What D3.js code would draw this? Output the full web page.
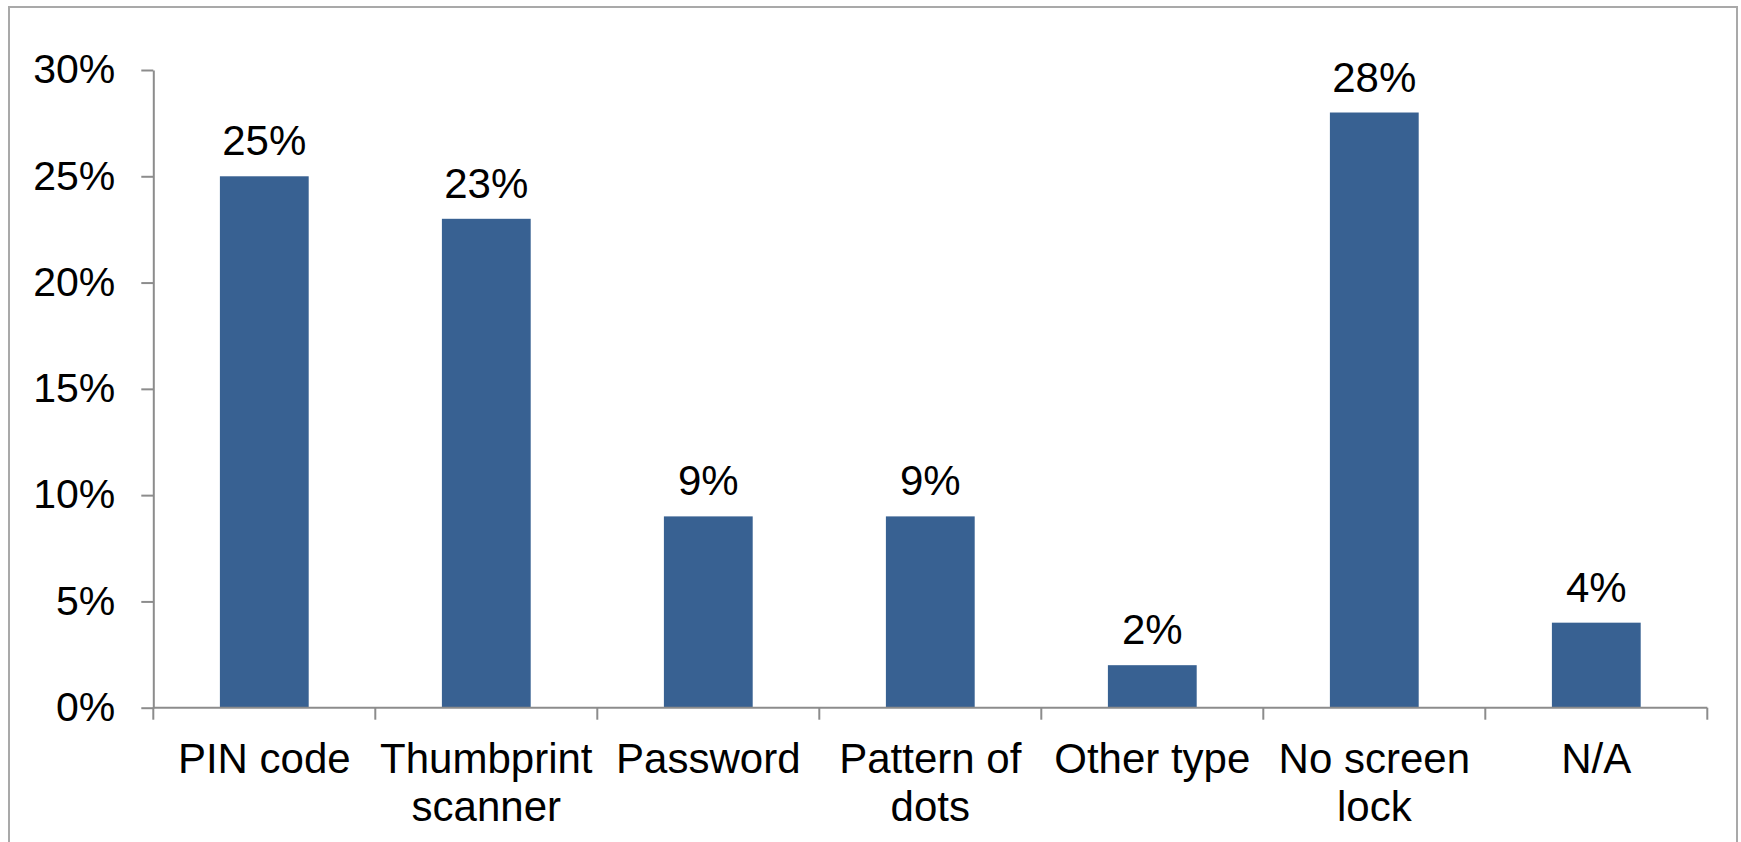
<!DOCTYPE html>
<html>
<head>
<meta charset="utf-8">
<script src="https://cdn.jsdelivr.net/npm/d3@7"></script>
<style>
  html, body { margin: 0; padding: 0; background: #fff; }
  svg { display: block; }
  text { font-family: "Liberation Sans", Arial, sans-serif; fill: #000; }
</style>
</head>
<body>
<svg id="chart" width="1741" height="842"></svg>
<script>
// Screen lock type used on smartphones
const categories = ["PIN code", "Thumbprint scanner", "Password", "Pattern of dots", "Other type", "No screen lock", "N/A"];
const shares = [25, 23, 9, 9, 2, 28, 4];
const yTicks = [0, 5, 10, 15, 20, 25, 30];

const svg = d3.select("#chart");
const plot = { left: 153.3, right: 1707.3, top: 70, bottom: 707.7 };
const fontSize = 42;
const tickFontSize = 41;
const axisColor = "#8c8c8c";

// outer chart frame (bottom edge lies below the visible area)
svg.append("rect")
  .attr("x", 9).attr("y", 7)
  .attr("width", 1728).attr("height", 900)
  .attr("fill", "none")
  .attr("stroke", "#a9a9a9")
  .attr("stroke-width", 2);

const x = d3.scaleBand()
  .domain(categories)
  .range([plot.left, plot.right])
  .paddingInner(0.6)
  .paddingOuter(0.3);

const y = d3.scaleLinear()
  .domain([0, 30])
  .range([plot.bottom, plot.top]);

// bars
svg.append("g").selectAll("rect")
  .data(categories)
  .join("rect")
  .attr("x", d => x(d))
  .attr("y", (d, i) => y(shares[i]))
  .attr("width", x.bandwidth())
  .attr("height", (d, i) => y(0) - y(shares[i]))
  .attr("fill", "#386192");

// value labels
svg.append("g").selectAll("text")
  .data(categories)
  .join("text")
  .attr("x", d => x(d) + x.bandwidth() / 2)
  .attr("y", (d, i) => y(shares[i]) - 21)
  .attr("text-anchor", "middle")
  .style("font-size", fontSize + "px")
  .text((d, i) => shares[i] + "%");

// y axis
const yAxis = svg.append("g")
  .attr("transform", `translate(${plot.left},0)`)
  .call(d3.axisLeft(y).tickValues(yTicks).tickFormat(d => d + "%").tickSize(12).tickSizeOuter(0).tickPadding(26));
yAxis.select(".domain").attr("stroke", axisColor).attr("stroke-width", 2);
yAxis.selectAll(".tick line").attr("stroke", axisColor).attr("stroke-width", 2);
yAxis.selectAll(".tick text")
  .style("font-size", tickFontSize + "px")
  .style("font-family", "'Liberation Sans', Arial, sans-serif")
  .attr("fill", "#000")
  .attr("dy", "0.31em");

// x axis baseline and category boundary ticks
const step = x.step();
const boundaries = categories.map(d => x(d) - step * x.paddingOuter()).concat([plot.right]);
const xAxis = svg.append("g");
xAxis.append("line")
  .attr("x1", plot.left).attr("x2", plot.right)
  .attr("y1", y(0)).attr("y2", y(0))
  .attr("stroke", axisColor).attr("stroke-width", 2);
xAxis.selectAll("line.bt")
  .data(boundaries)
  .join("line")
  .attr("class", "bt")
  .attr("x1", d => d).attr("x2", d => d)
  .attr("y1", y(0)).attr("y2", y(0) + 12)
  .attr("stroke", axisColor).attr("stroke-width", 2);

// category labels, wrapped to the band width
const lineHeight = 48;
const labels = xAxis.selectAll("text.cat")
  .data(categories)
  .join("text")
  .attr("class", "cat")
  .attr("text-anchor", "middle")
  .style("font-size", fontSize + "px")
  .attr("x", d => x(d) + x.bandwidth() / 2)
  .attr("y", y(0) + 65);

labels.each(function(d) {
  const t = d3.select(this);
  const cx = +t.attr("x");
  const words = d.split(" ");
  const maxW = step - 4;
  let line = [];
  let lines = [];
  const probe = t.append("tspan");
  words.forEach(w => {
    const trial = line.concat([w]).join(" ");
    probe.text(trial);
    if (probe.node().getComputedTextLength() > maxW && line.length) {
      lines.push(line.join(" "));
      line = [w];
    } else {
      line.push(w);
    }
  });
  lines.push(line.join(" "));
  probe.remove();
  lines.forEach((ln, k) => {
    t.append("tspan").attr("x", cx).attr("dy", k === 0 ? 0 : lineHeight).text(ln);
  });
});
</script>
</body>
</html>
